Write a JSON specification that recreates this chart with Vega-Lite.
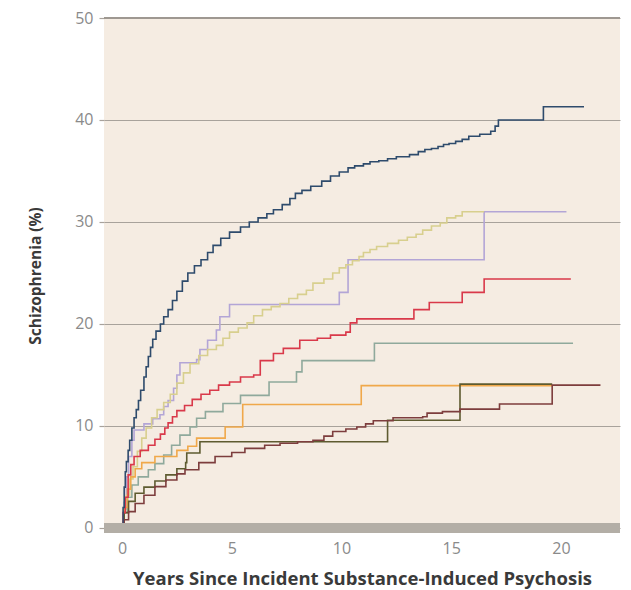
{
  "$schema": "https://vega.github.io/schema/vega-lite/v6.json",
  "autosize": "none",
  "padding": {"left": 104, "top": 18, "right": 11, "bottom": 57},
  "width": 516,
  "height": 515,
  "background": "white",
  "config": {
    "view": {"fill": "#f5ece2", "stroke": null},
    "font": "Open Sans"
  },
  "datasets": {
    "curves": [
      {"series": "lavender", "year": 0, "pct": 0},
      {"series": "lavender", "year": 0.1, "pct": 2.5},
      {"series": "lavender", "year": 0.2, "pct": 5.0},
      {"series": "lavender", "year": 0.3, "pct": 7.0},
      {"series": "lavender", "year": 0.45, "pct": 8.6},
      {"series": "lavender", "year": 0.55, "pct": 9.6},
      {"series": "lavender", "year": 1.0, "pct": 10.2},
      {"series": "lavender", "year": 1.4, "pct": 10.7},
      {"series": "lavender", "year": 1.73, "pct": 11.1},
      {"series": "lavender", "year": 1.9, "pct": 11.9},
      {"series": "lavender", "year": 2.1, "pct": 12.5},
      {"series": "lavender", "year": 2.35, "pct": 13.7},
      {"series": "lavender", "year": 2.5, "pct": 15.0},
      {"series": "lavender", "year": 2.64, "pct": 16.2},
      {"series": "lavender", "year": 3.4, "pct": 16.5},
      {"series": "lavender", "year": 3.55, "pct": 17.5},
      {"series": "lavender", "year": 3.9, "pct": 18.4},
      {"series": "lavender", "year": 4.3, "pct": 19.4},
      {"series": "lavender", "year": 4.46, "pct": 20.7},
      {"series": "lavender", "year": 4.9, "pct": 21.9},
      {"series": "lavender", "year": 9.9, "pct": 23.1},
      {"series": "lavender", "year": 10.3, "pct": 26.3},
      {"series": "lavender", "year": 16.5, "pct": 31.0},
      {"series": "lavender", "year": 20.25, "pct": 31.0},

      {"series": "khaki", "year": 0, "pct": 0},
      {"series": "khaki", "year": 0.1, "pct": 1.8},
      {"series": "khaki", "year": 0.2, "pct": 3.2},
      {"series": "khaki", "year": 0.35, "pct": 4.8},
      {"series": "khaki", "year": 0.5, "pct": 6.0},
      {"series": "khaki", "year": 0.7, "pct": 7.5},
      {"series": "khaki", "year": 0.9, "pct": 8.8},
      {"series": "khaki", "year": 1.1, "pct": 9.8},
      {"series": "khaki", "year": 1.35, "pct": 10.8},
      {"series": "khaki", "year": 1.6, "pct": 11.6},
      {"series": "khaki", "year": 1.9, "pct": 12.3},
      {"series": "khaki", "year": 2.2, "pct": 13.1},
      {"series": "khaki", "year": 2.5, "pct": 14.2},
      {"series": "khaki", "year": 2.8, "pct": 15.2},
      {"series": "khaki", "year": 3.1, "pct": 16.1},
      {"series": "khaki", "year": 3.5, "pct": 16.9},
      {"series": "khaki", "year": 3.9, "pct": 17.5},
      {"series": "khaki", "year": 4.3, "pct": 17.9},
      {"series": "khaki", "year": 4.6, "pct": 18.6},
      {"series": "khaki", "year": 4.9, "pct": 19.2},
      {"series": "khaki", "year": 5.3, "pct": 19.6},
      {"series": "khaki", "year": 5.7, "pct": 20.1},
      {"series": "khaki", "year": 6.0, "pct": 20.8},
      {"series": "khaki", "year": 6.4, "pct": 21.4},
      {"series": "khaki", "year": 6.8, "pct": 21.7},
      {"series": "khaki", "year": 7.2, "pct": 22.0},
      {"series": "khaki", "year": 7.6, "pct": 22.5},
      {"series": "khaki", "year": 8.0, "pct": 22.9},
      {"series": "khaki", "year": 8.4, "pct": 23.3},
      {"series": "khaki", "year": 8.7, "pct": 24.0},
      {"series": "khaki", "year": 9.2, "pct": 24.4},
      {"series": "khaki", "year": 9.6, "pct": 25.0},
      {"series": "khaki", "year": 9.9, "pct": 25.5},
      {"series": "khaki", "year": 10.2, "pct": 25.8},
      {"series": "khaki", "year": 10.5, "pct": 26.2},
      {"series": "khaki", "year": 10.8, "pct": 26.6},
      {"series": "khaki", "year": 11.0, "pct": 27.0},
      {"series": "khaki", "year": 11.3, "pct": 27.3},
      {"series": "khaki", "year": 11.6, "pct": 27.6},
      {"series": "khaki", "year": 12.1, "pct": 27.9},
      {"series": "khaki", "year": 12.6, "pct": 28.2},
      {"series": "khaki", "year": 13.0, "pct": 28.5},
      {"series": "khaki", "year": 13.4, "pct": 28.8},
      {"series": "khaki", "year": 13.7, "pct": 29.2},
      {"series": "khaki", "year": 14.1, "pct": 29.6},
      {"series": "khaki", "year": 14.5, "pct": 29.9},
      {"series": "khaki", "year": 14.8, "pct": 30.4},
      {"series": "khaki", "year": 15.2, "pct": 30.6},
      {"series": "khaki", "year": 15.5, "pct": 31.0},
      {"series": "khaki", "year": 16.5, "pct": 31.0},

      {"series": "sage", "year": 0, "pct": 0},
      {"series": "sage", "year": 0.1, "pct": 1.5},
      {"series": "sage", "year": 0.25, "pct": 3.0},
      {"series": "sage", "year": 0.45, "pct": 4.2},
      {"series": "sage", "year": 0.74, "pct": 5.0},
      {"series": "sage", "year": 1.2, "pct": 5.7},
      {"series": "sage", "year": 1.5, "pct": 6.3},
      {"series": "sage", "year": 1.9, "pct": 7.15},
      {"series": "sage", "year": 2.26, "pct": 8.1},
      {"series": "sage", "year": 2.64, "pct": 9.1},
      {"series": "sage", "year": 3.1, "pct": 9.9},
      {"series": "sage", "year": 3.4, "pct": 10.75},
      {"series": "sage", "year": 3.8, "pct": 11.4},
      {"series": "sage", "year": 4.6, "pct": 12.2},
      {"series": "sage", "year": 5.4, "pct": 13.0},
      {"series": "sage", "year": 6.7, "pct": 14.3},
      {"series": "sage", "year": 7.95, "pct": 15.3},
      {"series": "sage", "year": 8.2, "pct": 16.4},
      {"series": "sage", "year": 11.5, "pct": 18.1},
      {"series": "sage", "year": 20.55, "pct": 18.1},

      {"series": "orange", "year": 0, "pct": 0},
      {"series": "orange", "year": 0.1, "pct": 2.0},
      {"series": "orange", "year": 0.25, "pct": 3.8},
      {"series": "orange", "year": 0.4, "pct": 5.0},
      {"series": "orange", "year": 0.6, "pct": 5.8},
      {"series": "orange", "year": 0.9, "pct": 6.4},
      {"series": "orange", "year": 1.5, "pct": 7.0},
      {"series": "orange", "year": 2.5, "pct": 7.6},
      {"series": "orange", "year": 3.0, "pct": 8.0},
      {"series": "orange", "year": 3.4, "pct": 8.8},
      {"series": "orange", "year": 4.7, "pct": 9.9},
      {"series": "orange", "year": 5.5, "pct": 12.1},
      {"series": "orange", "year": 10.9, "pct": 13.95},
      {"series": "orange", "year": 19.6, "pct": 13.95},

      {"series": "olive", "year": 0, "pct": 0},
      {"series": "olive", "year": 0.1, "pct": 1.5},
      {"series": "olive", "year": 0.3, "pct": 2.6},
      {"series": "olive", "year": 0.6, "pct": 3.4},
      {"series": "olive", "year": 1.0, "pct": 4.0},
      {"series": "olive", "year": 1.5, "pct": 4.6},
      {"series": "olive", "year": 2.0, "pct": 5.2},
      {"series": "olive", "year": 2.5, "pct": 5.8},
      {"series": "olive", "year": 2.9, "pct": 6.4},
      {"series": "olive", "year": 2.95, "pct": 7.35},
      {"series": "olive", "year": 3.55, "pct": 8.45},
      {"series": "olive", "year": 12.1, "pct": 10.55},
      {"series": "olive", "year": 15.4, "pct": 14.1},
      {"series": "olive", "year": 19.6, "pct": 14.1},

      {"series": "maroon", "year": 0, "pct": 0},
      {"series": "maroon", "year": 0.1, "pct": 0.8},
      {"series": "maroon", "year": 0.3, "pct": 1.6},
      {"series": "maroon", "year": 0.6, "pct": 2.4},
      {"series": "maroon", "year": 1.0, "pct": 3.2},
      {"series": "maroon", "year": 1.5, "pct": 4.05},
      {"series": "maroon", "year": 2.0, "pct": 4.7},
      {"series": "maroon", "year": 2.5, "pct": 5.3},
      {"series": "maroon", "year": 2.87, "pct": 5.7},
      {"series": "maroon", "year": 3.5, "pct": 6.4},
      {"series": "maroon", "year": 4.24, "pct": 7.0},
      {"series": "maroon", "year": 5.0, "pct": 7.4},
      {"series": "maroon", "year": 5.6, "pct": 7.8},
      {"series": "maroon", "year": 6.5, "pct": 8.1},
      {"series": "maroon", "year": 7.2, "pct": 8.3},
      {"series": "maroon", "year": 8.0, "pct": 8.45},
      {"series": "maroon", "year": 8.7, "pct": 8.6},
      {"series": "maroon", "year": 9.2, "pct": 9.0},
      {"series": "maroon", "year": 9.6, "pct": 9.45},
      {"series": "maroon", "year": 10.2, "pct": 9.7},
      {"series": "maroon", "year": 10.7, "pct": 9.9},
      {"series": "maroon", "year": 11.1, "pct": 10.2},
      {"series": "maroon", "year": 11.45, "pct": 10.5},
      {"series": "maroon", "year": 12.35, "pct": 10.8},
      {"series": "maroon", "year": 13.7, "pct": 10.9},
      {"series": "maroon", "year": 13.9, "pct": 11.25},
      {"series": "maroon", "year": 14.6, "pct": 11.4},
      {"series": "maroon", "year": 15.4, "pct": 11.65},
      {"series": "maroon", "year": 17.2, "pct": 12.15},
      {"series": "maroon", "year": 19.6, "pct": 14.0},
      {"series": "maroon", "year": 21.8, "pct": 14.0},

      {"series": "red", "year": 0, "pct": 0},
      {"series": "red", "year": 0.05, "pct": 1.5},
      {"series": "red", "year": 0.15, "pct": 3.0},
      {"series": "red", "year": 0.28, "pct": 5.2},
      {"series": "red", "year": 0.4, "pct": 6.2},
      {"series": "red", "year": 0.55, "pct": 7.0},
      {"series": "red", "year": 0.83, "pct": 7.6},
      {"series": "red", "year": 1.2, "pct": 8.1},
      {"series": "red", "year": 1.5, "pct": 8.7},
      {"series": "red", "year": 1.75, "pct": 9.2},
      {"series": "red", "year": 1.95, "pct": 9.8},
      {"series": "red", "year": 2.1, "pct": 10.3},
      {"series": "red", "year": 2.3, "pct": 10.9},
      {"series": "red", "year": 2.5, "pct": 11.5},
      {"series": "red", "year": 2.85, "pct": 12.0},
      {"series": "red", "year": 3.2, "pct": 12.6},
      {"series": "red", "year": 3.6, "pct": 13.1},
      {"series": "red", "year": 4.0, "pct": 13.5},
      {"series": "red", "year": 4.4, "pct": 14.0},
      {"series": "red", "year": 4.9, "pct": 14.3},
      {"series": "red", "year": 5.4, "pct": 14.8},
      {"series": "red", "year": 6.0, "pct": 15.0},
      {"series": "red", "year": 6.3, "pct": 16.4},
      {"series": "red", "year": 6.9, "pct": 17.1},
      {"series": "red", "year": 7.35, "pct": 17.6},
      {"series": "red", "year": 8.1, "pct": 18.4},
      {"series": "red", "year": 8.9, "pct": 18.6},
      {"series": "red", "year": 9.5, "pct": 18.9},
      {"series": "red", "year": 10.2, "pct": 19.2},
      {"series": "red", "year": 10.4, "pct": 20.1},
      {"series": "red", "year": 10.7, "pct": 20.5},
      {"series": "red", "year": 13.3, "pct": 21.4},
      {"series": "red", "year": 14.0, "pct": 22.1},
      {"series": "red", "year": 15.5, "pct": 23.1},
      {"series": "red", "year": 16.5, "pct": 24.4},
      {"series": "red", "year": 20.45, "pct": 24.4},

      {"series": "navy", "year": 0, "pct": 0},
      {"series": "navy", "year": 0.05, "pct": 2.0},
      {"series": "navy", "year": 0.1, "pct": 4.0},
      {"series": "navy", "year": 0.15, "pct": 5.5},
      {"series": "navy", "year": 0.2, "pct": 6.5},
      {"series": "navy", "year": 0.28, "pct": 7.6},
      {"series": "navy", "year": 0.35, "pct": 8.6},
      {"series": "navy", "year": 0.45, "pct": 9.8},
      {"series": "navy", "year": 0.55, "pct": 10.8},
      {"series": "navy", "year": 0.65, "pct": 11.6},
      {"series": "navy", "year": 0.75, "pct": 12.5},
      {"series": "navy", "year": 0.85, "pct": 13.5},
      {"series": "navy", "year": 1.0, "pct": 14.8},
      {"series": "navy", "year": 1.1, "pct": 15.8},
      {"series": "navy", "year": 1.2, "pct": 16.8},
      {"series": "navy", "year": 1.3, "pct": 17.7},
      {"series": "navy", "year": 1.4, "pct": 18.5},
      {"series": "navy", "year": 1.55, "pct": 19.3},
      {"series": "navy", "year": 1.75, "pct": 20.0},
      {"series": "navy", "year": 1.9, "pct": 20.7},
      {"series": "navy", "year": 2.1, "pct": 21.4},
      {"series": "navy", "year": 2.3, "pct": 22.3},
      {"series": "navy", "year": 2.5, "pct": 23.2},
      {"series": "navy", "year": 2.75, "pct": 24.2},
      {"series": "navy", "year": 3.0, "pct": 25.0},
      {"series": "navy", "year": 3.3, "pct": 25.7},
      {"series": "navy", "year": 3.6, "pct": 26.3},
      {"series": "navy", "year": 3.9, "pct": 27.0},
      {"series": "navy", "year": 4.15, "pct": 27.7},
      {"series": "navy", "year": 4.5, "pct": 28.4},
      {"series": "navy", "year": 4.9, "pct": 29.0},
      {"series": "navy", "year": 5.4, "pct": 29.5},
      {"series": "navy", "year": 5.8, "pct": 30.0},
      {"series": "navy", "year": 6.2, "pct": 30.4},
      {"series": "navy", "year": 6.6, "pct": 30.8},
      {"series": "navy", "year": 6.9, "pct": 31.2},
      {"series": "navy", "year": 7.3, "pct": 31.7},
      {"series": "navy", "year": 7.65, "pct": 32.3},
      {"series": "navy", "year": 7.9, "pct": 32.8},
      {"series": "navy", "year": 8.2, "pct": 33.1},
      {"series": "navy", "year": 8.6, "pct": 33.5},
      {"series": "navy", "year": 9.1, "pct": 34.0},
      {"series": "navy", "year": 9.5, "pct": 34.5},
      {"series": "navy", "year": 9.9, "pct": 34.9},
      {"series": "navy", "year": 10.3, "pct": 35.3},
      {"series": "navy", "year": 10.6, "pct": 35.5},
      {"series": "navy", "year": 11.0, "pct": 35.7},
      {"series": "navy", "year": 11.3, "pct": 35.9},
      {"series": "navy", "year": 11.7, "pct": 36.0},
      {"series": "navy", "year": 12.1, "pct": 36.2},
      {"series": "navy", "year": 12.5, "pct": 36.4},
      {"series": "navy", "year": 13.1, "pct": 36.6},
      {"series": "navy", "year": 13.5, "pct": 36.9},
      {"series": "navy", "year": 13.8, "pct": 37.1},
      {"series": "navy", "year": 14.1, "pct": 37.2},
      {"series": "navy", "year": 14.4, "pct": 37.4},
      {"series": "navy", "year": 14.65, "pct": 37.6},
      {"series": "navy", "year": 14.9, "pct": 37.7},
      {"series": "navy", "year": 15.2, "pct": 37.9},
      {"series": "navy", "year": 15.5, "pct": 38.1},
      {"series": "navy", "year": 15.8, "pct": 38.4},
      {"series": "navy", "year": 16.3, "pct": 38.6},
      {"series": "navy", "year": 16.8, "pct": 38.9},
      {"series": "navy", "year": 17.0, "pct": 39.4},
      {"series": "navy", "year": 17.15, "pct": 40.0},
      {"series": "navy", "year": 19.2, "pct": 41.3},
      {"series": "navy", "year": 21.05, "pct": 41.3}
    ]
  },
  "layer": [
    {
      "data": {"values": [{"v": 50}]},
      "mark": {"type": "rule", "color": "#9e9891", "strokeWidth": 2},
      "encoding": {"y": {"field": "v", "type": "quantitative"}}
    },
    {
      "data": {"name": "curves"},
      "mark": {"type": "line", "interpolate": "step-after", "strokeWidth": 1.6, "clip": true},
      "encoding": {
        "x": {
          "field": "year", "type": "quantitative",
          "scale": {"domain": [-0.82, 22.69], "nice": false, "zero": false},
          "axis": {
            "values": [0, 5, 10, 15, 20],
            "grid": false, "domain": false, "ticks": false,
            "labelPadding": 7, "labelFontSize": 16, "labelColor": "#8a8a8a",
            "title": "Years Since Incident Substance-Induced Psychosis",
            "titleFontSize": 18.5, "titleFontWeight": "bold", "titleColor": "#3a3a3a",
            "titlePadding": 13
          }
        },
        "y": {
          "field": "pct", "type": "quantitative",
          "scale": {"domain": [-0.5, 50], "nice": false, "zero": false},
          "axis": {
            "values": [0, 10, 20, 30, 40, 50],
            "grid": true, "gridColor": "#a8a29b", "gridWidth": 1.2,
            "domain": false, "ticks": true, "tickSize": 5, "tickColor": "#a8a29b", "tickWidth": 1.2,
            "labelPadding": 6, "labelFontSize": 16, "labelColor": "#8a8a8a",
            "title": "Schizophrenia (%)",
            "titleFontSize": 15.5, "titleFontWeight": "bold", "titleColor": "#3a3a3a",
            "titlePadding": 31
          }
        },
        "color": {
          "field": "series", "type": "nominal", "legend": null,
          "scale": {
            "domain": ["lavender", "khaki", "sage", "orange", "olive", "maroon", "red", "navy"],
            "range": ["#b3a5d6", "#d8cf8e", "#8fa99c", "#f0a84a", "#5e5b30", "#7d3d3d", "#d9394a", "#2e4b6c"]
          }
        }
      }
    },
    {
      "data": {"values": [{"v": 0}]},
      "mark": {"type": "rule", "color": "#b3aea6", "strokeWidth": 10},
      "encoding": {"y": {"field": "v", "type": "quantitative"}}
    }
  ]
}
